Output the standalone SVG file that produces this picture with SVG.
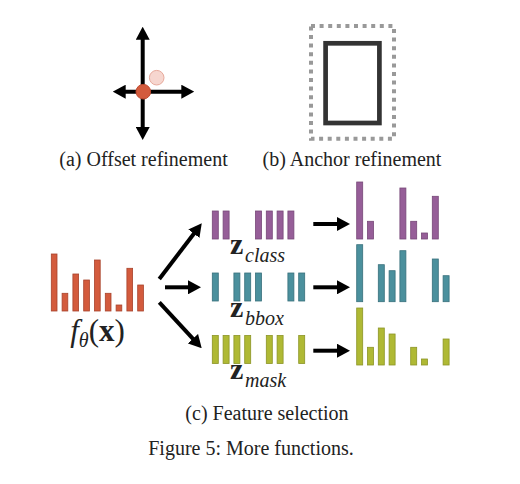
<svg xmlns="http://www.w3.org/2000/svg" width="520" height="484" viewBox="0 0 520 484">
<defs>
<style>
.t{font-family:"Liberation Serif","Times New Roman",serif;fill:#222;}
.cap{font-size:20px;text-anchor:middle;}
.ln{stroke:#000;stroke-width:4;fill:none;}
.r{fill:#d35b3d;stroke:#a8432c;stroke-width:0.8;}
.p{fill:#965e98;stroke:#774878;stroke-width:0.8;}
.c{fill:#4b909d;stroke:#38707c;stroke-width:0.8;}
.y{fill:#afb934;stroke:#8c9526;stroke-width:0.8;}
.zb{font-size:30px;font-weight:bold;}
.zs{font-size:20px;font-style:italic;}
</style>
<marker id="ah" viewBox="0 0 13 14" refX="5" refY="7" markerWidth="13" markerHeight="14" markerUnits="userSpaceOnUse" orient="auto-start-reverse">
<path d="M0,0 L13,7 L0,14 z" fill="#000"/>
</marker>
</defs>

<g id="offset">
<line class="ln" x1="142.7" y1="34.7" x2="142.7" y2="132" marker-start="url(#ah)" marker-end="url(#ah)"/>
<line class="ln" x1="120.7" y1="91.7" x2="186.3" y2="91.7" marker-start="url(#ah)" marker-end="url(#ah)"/>
<circle cx="156.7" cy="77.7" r="7.3" fill="#f6d6cf" stroke="#e7a99b" stroke-width="1"/>
<circle cx="143.3" cy="91.7" r="7.3" fill="#d35b3d" stroke="#c04a30" stroke-width="1"/>
<text class="t cap" x="143.5" y="166">(a) Offset refinement</text>
</g>

<g id="anchor">
<rect x="311" y="26" width="83" height="112.7" fill="none" stroke="#999" stroke-width="4" stroke-dasharray="4 4.6"/>
<rect x="325.6" y="43.3" width="53.8" height="79.7" fill="none" stroke="#333" stroke-width="4.7"/>
<text class="t cap" x="352" y="166">(b) Anchor refinement</text>
</g>

<g id="features">
<rect class="r" x="51.3" y="254" width="5.7" height="57"/>
<rect class="r" x="62.1" y="293.3" width="5.7" height="17.7"/>
<rect class="r" x="72.9" y="274" width="5.7" height="37"/>
<rect class="r" x="83.7" y="280" width="5.7" height="31"/>
<rect class="r" x="94.5" y="260" width="5.7" height="51"/>
<rect class="r" x="105.3" y="293.3" width="5.7" height="17.7"/>
<rect class="r" x="116.1" y="305" width="5.7" height="6"/>
<rect class="r" x="126.9" y="268.3" width="5.7" height="42.7"/>
<rect class="r" x="137.7" y="285" width="5.7" height="26"/>
<text class="t" x="97.5" y="341" font-size="31" text-anchor="middle"><tspan font-style="italic">f</tspan><tspan font-style="italic" font-size="20" dy="6">θ</tspan><tspan dy="-6">(</tspan><tspan font-weight="bold">x</tspan><tspan>)</tspan></text>
</g>

<g id="z-class">
<rect class="p" x="212.3" y="211" width="6" height="28"/>
<rect class="p" x="223.1" y="211" width="6" height="28"/>
<rect class="p" x="255.5" y="211" width="6" height="28"/>
<rect class="p" x="266.3" y="211" width="6" height="28"/>
<rect class="p" x="277.1" y="211" width="6" height="28"/>
<rect class="p" x="287.9" y="211" width="6" height="28"/>
<text class="t zb" x="230" y="254">z</text>
<text class="t zs" x="245" y="262">class</text>
</g>

<g id="z-bbox">
<rect class="c" x="212.3" y="273" width="6" height="28"/>
<rect class="c" x="233.9" y="273" width="6" height="28"/>
<rect class="c" x="244.7" y="273" width="6" height="28"/>
<rect class="c" x="255.5" y="273" width="6" height="28"/>
<rect class="c" x="287.9" y="273" width="6" height="28"/>
<rect class="c" x="298.7" y="273" width="6" height="28"/>
<text class="t zb" x="230" y="317">z</text>
<text class="t zs" x="245" y="325">bbox</text>
</g>

<g id="z-mask">
<rect class="y" x="212.3" y="335.5" width="6" height="28"/>
<rect class="y" x="223.1" y="335.5" width="6" height="28"/>
<rect class="y" x="233.9" y="335.5" width="6" height="28"/>
<rect class="y" x="244.7" y="335.5" width="6" height="28"/>
<rect class="y" x="266.3" y="335.5" width="6" height="28"/>
<rect class="y" x="277.1" y="335.5" width="6" height="28"/>
<rect class="y" x="298.7" y="335.5" width="6" height="28"/>
<text class="t zb" x="230" y="379">z</text>
<text class="t zs" x="245" y="387">mask</text>
</g>

<g id="out-class">
<rect class="p" x="356.7" y="182" width="6" height="57"/>
<rect class="p" x="367.5" y="221.3" width="6" height="17.7"/>
<rect class="p" x="399.9" y="188" width="6" height="51"/>
<rect class="p" x="410.7" y="221.3" width="6" height="17.7"/>
<rect class="p" x="421.5" y="233" width="6" height="6"/>
<rect class="p" x="432.3" y="196.3" width="6" height="42.7"/>
</g>

<g id="out-bbox">
<rect class="c" x="356.7" y="244.7" width="6" height="57"/>
<rect class="c" x="378.3" y="264.7" width="6" height="37"/>
<rect class="c" x="389.1" y="270.7" width="6" height="31"/>
<rect class="c" x="399.9" y="250.7" width="6" height="51"/>
<rect class="c" x="432.3" y="259" width="6" height="42.7"/>
<rect class="c" x="443.1" y="275.7" width="6" height="26"/>
</g>

<g id="out-mask">
<rect class="y" x="356.7" y="308" width="6" height="57"/>
<rect class="y" x="367.5" y="347.3" width="6" height="17.7"/>
<rect class="y" x="378.3" y="328" width="6" height="37"/>
<rect class="y" x="389.1" y="334" width="6" height="31"/>
<rect class="y" x="410.7" y="347.3" width="6" height="17.7"/>
<rect class="y" x="421.5" y="359" width="6" height="6"/>
<rect class="y" x="443.1" y="339" width="6" height="26"/>
</g>

<g id="connectors">
<line class="ln" x1="159.3" y1="279" x2="196.9" y2="229.7" marker-end="url(#ah)"/>
<line class="ln" x1="165" y1="287.3" x2="193" y2="287.3" marker-end="url(#ah)"/>
<line class="ln" x1="159.3" y1="302.3" x2="196.3" y2="342.4" marker-end="url(#ah)"/>
<line class="ln" x1="313.3" y1="224" x2="342" y2="224" marker-end="url(#ah)"/>
<line class="ln" x1="313.3" y1="287.3" x2="342" y2="287.3" marker-end="url(#ah)"/>
<line class="ln" x1="313.3" y1="350.7" x2="342" y2="350.7" marker-end="url(#ah)"/>
</g>

<g id="captions">
<text class="t cap" x="267" y="420">(c) Feature selection</text>
<text class="t cap" x="251" y="455" fill="#000">Figure 5: More functions.</text>
</g>
</svg>
